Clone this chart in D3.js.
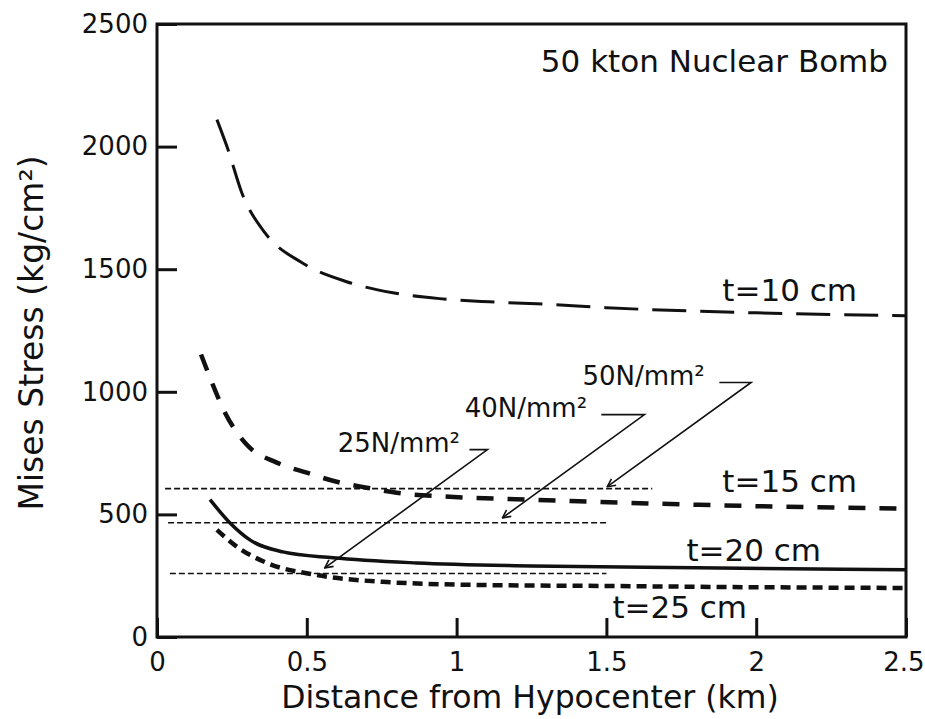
<!DOCTYPE html>
<html>
<head>
<meta charset="utf-8">
<script src="https://d3js.org/d3.v7.min.js"></script>
<style>
  body { margin: 0; background: white; }
  text { font-family: "DejaVu Sans", sans-serif; fill: #111; }
</style>
</head>
<body>
<svg width="925" height="719" id="chart"></svg>
<script>
// values (distance km, Mises stress kg/cm2)
var t10Dist = [0.20, 0.237, 0.283, 0.36, 0.483, 0.633, 0.787, 0.943, 1.11, 1.267, 1.5, 2.0, 2.5];
var t10Stress = [2110, 1988, 1812, 1649, 1527, 1449, 1404, 1380, 1367, 1359, 1343, 1322, 1310];

var t15Dist = [0.147, 0.173, 0.227, 0.3, 0.4, 0.5, 0.6, 0.7, 0.8, 0.977, 1.25, 1.81, 2.5];
var t15Stress = [1152, 1070, 915, 784, 711, 670, 633, 609, 588, 572, 560, 539, 523];

var t20Dist = [0.177, 0.243, 0.31, 0.42, 0.587, 0.867, 1.25, 1.8, 2.5];
var t20Stress = [560, 466, 396, 347, 323, 302, 290, 282, 274];

var t25Dist = [0.2, 0.267, 0.367, 0.533, 0.753, 1.087, 1.5, 2.0, 2.5];
var t25Stress = [437, 368, 302, 253, 225, 212, 208, 203, 200];

var seriesNames = ["t=10 cm", "t=15 cm", "t=20 cm", "t=25 cm"];

// strength reference lines
var refNames = ["25N/mm\u00b2", "40N/mm\u00b2", "50N/mm\u00b2"];
var refStress = [259, 466, 605];
var refFrom = [0.043, 0.037, 0.027];
var refTo = [1.5, 1.5, 1.653];

var xTicks = [0, 0.5, 1, 1.5, 2, 2.5];
var yTicks = [0, 500, 1000, 1500, 2000, 2500];

var svg = d3.select("#chart");

var xs = d3.scaleLinear().domain([0, 2.5]).range([157, 906]);
var ys = d3.scaleLinear().domain([0, 2500]).range([637, 24]);

// axes, ticks pointing inward
var xAxis = svg.append("g")
  .attr("transform", "translate(0," + ys(0) + ")")
  .call(d3.axisBottom(xs).tickValues(xTicks).tickFormat(d3.format("~g"))
    .tickSizeInner(-19).tickSizeOuter(0).tickPadding(16));
xAxis.select(".domain").remove();
xAxis.selectAll("line").attr("stroke", "#111").attr("stroke-width", 3);
xAxis.selectAll("text").attr("font-size", "26px").attr("fill", "#111")
  .style("font-family", "DejaVu Sans");
// last label sits against the page edge
xAxis.selectAll(".tick text").filter(function(d) { return d == 2.5; })
  .attr("text-anchor", "end").attr("x", 924 - xs(2.5));

var yAxis = svg.append("g")
  .attr("transform", "translate(" + xs(0) + ",0)")
  .call(d3.axisLeft(ys).tickValues(yTicks).tickFormat(d3.format("d"))
    .tickSizeInner(-20).tickSizeOuter(0).tickPadding(9));
yAxis.select(".domain").remove();
yAxis.selectAll("line").attr("stroke", "#111").attr("stroke-width", 3);
yAxis.selectAll("text").attr("font-size", "26px").attr("fill", "#111")
  .style("font-family", "DejaVu Sans");

// frame
svg.append("rect")
  .attr("x", xs(0)).attr("y", ys(2500))
  .attr("width", xs(2.5) - xs(0)).attr("height", ys(0) - ys(2500))
  .attr("fill", "none").attr("stroke", "#111").attr("stroke-width", 3);

// reference lines
refStress.forEach(function(s, i) {
  svg.append("line")
    .attr("x1", xs(refFrom[i])).attr("x2", xs(refTo[i]))
    .attr("y1", ys(s)).attr("y2", ys(s))
    .attr("stroke", "#111").attr("stroke-width", 1.6)
    .attr("stroke-dasharray", "6,3");
});

// curves
var line = d3.line()
  .x(function(d) { return xs(d[0]); })
  .y(function(d) { return ys(d[1]); })
  .curve(d3.curveMonotoneX);

var curves = [
  { d: d3.zip(t10Dist, t10Stress), w: 3, dash: "34,14" },
  { d: d3.zip(t15Dist, t15Stress), w: 4.5, dash: "17,14" },
  { d: d3.zip(t20Dist, t20Stress), w: 3.5, dash: null },
  { d: d3.zip(t25Dist, t25Stress), w: 4.5, dash: "10,6" }
];
curves.forEach(function(c) {
  svg.append("path")
    .attr("d", line(c.d))
    .attr("fill", "none")
    .attr("stroke", "#111")
    .attr("stroke-width", c.w)
    .attr("stroke-dasharray", c.dash);
});

// series labels (data coordinates)
var labelAt = [[1.887, 1372], [1.887, 592], [1.767, 310], [1.52, 78]];
seriesNames.forEach(function(n, i) {
  svg.append("text")
    .attr("x", xs(labelAt[i][0])).attr("y", ys(labelAt[i][1]))
    .attr("font-size", "31px")
    .text(n);
});

// open arrow head
svg.append("defs").append("marker")
  .attr("id", "arr")
  .attr("viewBox", "0 0 10 10")
  .attr("refX", 9).attr("refY", 5)
  .attr("markerWidth", 10).attr("markerHeight", 10)
  .attr("markerUnits", "userSpaceOnUse")
  .attr("orient", "auto")
  .append("path")
  .attr("d", "M1,1 L9,5 L1,9")
  .attr("fill", "none")
  .attr("stroke", "#111")
  .attr("stroke-width", 1.6);

// annotations: text pos, leader start, elbow, arrow tip
var noteText = [[0.603, 756], [1.027, 899], [1.42, 1029]];
var noteStart = [[1.043, 764], [1.483, 907], [1.877, 1038]];
var noteElbow = [[1.103, 764], [1.627, 907], [1.983, 1038]];
var noteTip = [[0.56, 282], [1.153, 486], [1.503, 613]];

refNames.forEach(function(n, i) {
  svg.append("text")
    .attr("x", xs(noteText[i][0])).attr("y", ys(noteText[i][1]))
    .attr("font-size", "26px")
    .text(n);
  svg.append("path")
    .attr("d", "M" + xs(noteStart[i][0]) + "," + ys(noteStart[i][1]) +
      " L" + xs(noteElbow[i][0]) + "," + ys(noteElbow[i][1]) +
      " L" + xs(noteTip[i][0]) + "," + ys(noteTip[i][1]))
    .attr("fill", "none")
    .attr("stroke", "#111")
    .attr("stroke-width", 1.6)
    .attr("marker-end", "url(#arr)");
});

// title and axis titles
svg.append("text")
  .attr("x", 888).attr("y", 72)
  .attr("text-anchor", "end")
  .attr("font-size", "31px")
  .text("50 kton Nuclear Bomb");

svg.append("text")
  .attr("x", 530).attr("y", 708)
  .attr("text-anchor", "middle")
  .attr("font-size", "31.5px")
  .text("Distance from Hypocenter (km)");

svg.append("text")
  .attr("transform", "translate(43,333) rotate(-90)")
  .attr("text-anchor", "middle")
  .attr("font-size", "33px")
  .text("Mises Stress (kg/cm\u00b2)");
</script>
</body>
</html>
